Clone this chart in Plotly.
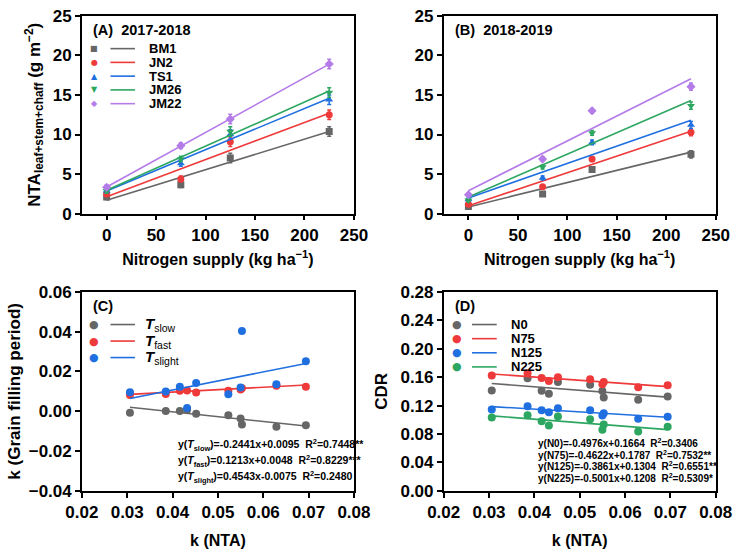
import numpy as np
import plotly.graph_objects as go

# ---------------- data ----------------
n_supply = [0, 75, 125, 225]
cultivars = ["BM1", "JN2", "TS1", "JM26", "JM22"]

# Panel A (2017-2018)
a_BM1 = [2.1, 3.65, 7.05, 10.4]
a_JN2 = [2.5, 4.4, 9.1, 12.5]
a_TS1 = [2.9, 6.35, 10.0, 14.4]
a_JM26 = [2.9, 6.9, 10.4, 15.3]
a_JM22 = [3.35, 8.6, 11.95, 18.9]
a_err = [0.3, 0.35, 0.6, 0.6]

# Panel B (2018-2019)
b_BM1 = [0.9, 2.5, 5.6, 7.5]
b_JN2 = [1.2, 3.4, 6.9, 10.3]
b_TS1 = [1.8, 4.5, 9.0, 11.2]
b_JM26 = [1.7, 5.9, 10.2, 13.65]
b_JM22 = [2.4, 6.9, 13.0, 16.05]
b_err = [0.2, 0.25, 0.3, 0.45]

# k(NTA) values shared by panels C and D
k_nta = [0.0306, 0.0385, 0.0416, 0.0432, 0.0452, 0.0523, 0.0550, 0.0553, 0.0629, 0.0694]

# Panel C
c_slow = [-0.0007, 0.0001, 0.0001, 0.0008, -0.0012, -0.0020, -0.0036, -0.0067, -0.0078, -0.0070]
c_fast = [0.0082, 0.0087, 0.0103, 0.0105, 0.0094, 0.0103, 0.0110, 0.0116, 0.0128, 0.0123]
c_slight = [0.0095, 0.0099, 0.0123, 0.0017, 0.0142, 0.0085, 0.0120, 0.0403, 0.0136, 0.0252]
c_names = ["slow", "fast", "slight"]
c_slope = [-0.2441, 0.1213, 0.4543]
c_icpt = [0.0095, 0.0048, -0.0075]
c_r2 = ["0.7448**", "0.8229***", "0.2480"]

# Panel D
d_N0 = [0.1414, 0.1586, 0.1409, 0.1368, 0.1531, 0.1495, 0.1404, 0.1314, 0.1282, 0.1327]
d_N75 = [0.1622, 0.1654, 0.1590, 0.1545, 0.1600, 0.1572, 0.1500, 0.1531, 0.1459, 0.1486]
d_N125 = [0.1146, 0.1192, 0.1133, 0.1105, 0.1164, 0.1133, 0.1060, 0.1092, 0.1015, 0.1042]
d_N225 = [0.1033, 0.1065, 0.0979, 0.0920, 0.1047, 0.1006, 0.0861, 0.0933, 0.0834, 0.0902]
d_names = ["N0", "N75", "N125", "N225"]
d_slope = [-0.4976, -0.4622, -0.3861, -0.5001]
d_icpt = [0.1664, 0.1787, 0.1304, 0.1208]
d_r2 = ["0.3406", "0.7532**", "0.6551**", "0.5309*"]

# ---------------- style ----------------
GRAY, RED, BLUE, GREEN, PURPLE = "#666666", "#EE3A3A", "#1F6FE0", "#2CA660", "#B47CE8"
ab_colors = [GRAY, RED, BLUE, GREEN, PURPLE]
ab_symbols = ["square", "circle", "triangle-up", "triangle-down", "diamond"]
ab_glyph = ["■", "●", "▲", "▼", "◆"]
FONT = "Liberation Sans, Arial, sans-serif"

fig = go.Figure()

def add_ab(series, err, xa, ya):
    for name, vals, col, sym in zip(cultivars, series, ab_colors, ab_symbols):
        fig.add_trace(go.Scatter(
            x=n_supply, y=vals, mode="markers", xaxis=xa, yaxis=ya,
            marker=dict(symbol=sym, size=7, color=col),
            error_y=dict(type="data", array=err, color=col, thickness=1.5, width=2),
            showlegend=False))
        p = np.polyfit(n_supply, vals, 1)
        xs = np.array([n_supply[0], n_supply[-1]])
        fig.add_trace(go.Scatter(
            x=xs, y=np.polyval(p, xs), mode="lines", xaxis=xa, yaxis=ya,
            line=dict(color=col, width=1.6), showlegend=False))

add_ab([a_BM1, a_JN2, a_TS1, a_JM26, a_JM22], a_err, "x", "y")
add_ab([b_BM1, b_JN2, b_TS1, b_JM26, b_JM22], b_err, "x2", "y2")

kx = np.array([min(k_nta), max(k_nta)])
for vals, col, s, b in zip([c_slow, c_fast, c_slight], [GRAY, RED, BLUE], c_slope, c_icpt):
    fig.add_trace(go.Scatter(x=k_nta, y=vals, mode="markers", xaxis="x3", yaxis="y3",
                             marker=dict(symbol="circle", size=8, color=col), showlegend=False))
    fig.add_trace(go.Scatter(x=kx, y=s * kx + b, mode="lines", xaxis="x3", yaxis="y3",
                             line=dict(color=col, width=1.6), showlegend=False))

for vals, col, s, b in zip([d_N0, d_N75, d_N125, d_N225], [GRAY, RED, BLUE, GREEN], d_slope, d_icpt):
    fig.add_trace(go.Scatter(x=k_nta, y=vals, mode="markers", xaxis="x4", yaxis="y4",
                             marker=dict(symbol="circle", size=8, color=col), showlegend=False))
    fig.add_trace(go.Scatter(x=kx, y=s * kx + b, mode="lines", xaxis="x4", yaxis="y4",
                             line=dict(color=col, width=1.6), showlegend=False))

# ---------------- axes ----------------
def ax(domain, rng, dtick, anchor, title, fmt=None, tick0=None, tsize=16, standoff=None):
    t = dict(text=title, font=dict(family=FONT, size=tsize, color="black", weight="bold"))
    if standoff is not None:
        t["standoff"] = standoff
    d = dict(domain=domain, range=rng, dtick=dtick, anchor=anchor,
             showline=True, linecolor="black", linewidth=1.5, mirror=True,
             ticks="outside", ticklen=5, tickwidth=1.5, tickcolor="black",
             showgrid=False, zeroline=False,
             tickfont=dict(family=FONT, size=17, color="black", weight="bold"),
             title=t)
    if fmt:
        d["tickformat"] = fmt
    if tick0 is not None:
        d["tick0"] = tick0
    return d

XL, XR = [0.0909, 0.4719], [0.5976, 0.9786]
YT, YB = [0.6159, 0.9873], [0.0960, 0.4692]
nx_title = "<b>Nitrogen supply (kg ha<sup>−1</sup>)</b>"
fig.update_layout(
    xaxis=ax(XL, [-25, 250], 50, "y", nx_title, tick0=0, standoff=10),
    yaxis=ax(YT, [0, 25], 5, "x", "<b>NTA<sub>leaf+stem+chaff</sub> (g m<sup>−2</sup>)</b>", tsize=17, standoff=8),
    xaxis2=ax(XR, [-25, 250], 50, "y2", nx_title, tick0=0, standoff=10),
    yaxis2=ax(YT, [0, 25], 5, "x2", ""),
    xaxis3=ax(XL, [0.02, 0.08], 0.01, "y3", "<b>k (NTA)</b>", fmt=".2f", standoff=14),
    yaxis3=ax(YB, [-0.04, 0.06], 0.02, "x3", "<b>k (Grain filling period)</b>", fmt=".2f", tsize=17, standoff=4),
    xaxis4=ax(XR, [0.02, 0.08], 0.01, "y4", "<b>k (NTA)</b>", fmt=".2f", standoff=14),
    yaxis4=ax(YB, [0.0, 0.28], 0.04, "x4", "<b>CDR</b>", fmt=".2f", tsize=17, standoff=8),
)

annotations = []
shapes = []

def txt(xr, yr, x, y, text, size=13, color="black", xanchor="left", family=FONT):
    annotations.append(dict(xref=xr, yref=yr, x=x, y=y, text=text, showarrow=False,
                            xanchor=xanchor, yanchor="middle",
                            font=dict(family=family, size=size, color=color)))

def lline(xr, yr, x0, x1, y, col):
    shapes.append(dict(type="line", xref=xr, yref=yr, x0=x0, x1=x1, y0=y, y1=y,
                       line=dict(color=col, width=1.6)))

# Panel A legend/title
txt("x domain", "y domain", 0.035, 0.928, "<b>(A)  2017-2018</b>", 14.5)
for i, (name, col, g) in enumerate(zip(cultivars, ab_colors, ab_glyph)):
    yy = 0.834 - i * 0.0695
    txt("x domain", "y domain", 0.046, yy, g, 8, col, "center", "DejaVu Sans")
    lline("x domain", "y domain", 0.105, 0.195, yy, col)
    txt("x domain", "y domain", 0.239, yy, "<b>%s</b>" % name, 13)

# Panel B title
txt("x2 domain", "y2 domain", 0.035, 0.928, "<b>(B)  2018-2019</b>", 14.5)

# Panel C legend
txt("x3 domain", "y3 domain", 0.035, 0.927, "<b>(C)</b>", 14.5)
for i, (nm, col) in enumerate(zip(c_names, [GRAY, RED, BLUE])):
    yy = 0.836 - i * 0.083
    txt("x3 domain", "y3 domain", 0.046, yy, "●", 11, col, "center", "DejaVu Sans")
    lline("x3 domain", "y3 domain", 0.105, 0.195, yy, col)
    txt("x3 domain", "y3 domain", 0.225, yy,
        "<b><i>T</i></b><sub>%s</sub>" % nm, 15)
for i, (nm, s, b, r) in enumerate(zip(c_names, c_slope, c_icpt, c_r2)):
    eq = "y(<i>T</i><sub>%s</sub>)=%.4fx%+.4f  R<sup>2</sup>=%s" % (nm, s, b, r)
    txt("x3 domain", "y3 domain", 0.345, 0.230 - i * 0.081, "<b>%s</b>" % eq, 10.5)

# Panel D legend
txt("x4 domain", "y4 domain", 0.035, 0.927, "<b>(D)</b>", 14.5)
for i, (nm, col) in enumerate(zip(d_names, [GRAY, RED, BLUE, GREEN])):
    yy = 0.836 - i * 0.071
    txt("x4 domain", "y4 domain", 0.048, yy, "●", 11, col, "center", "DejaVu Sans")
    lline("x4 domain", "y4 domain", 0.104, 0.195, yy, col)
    txt("x4 domain", "y4 domain", 0.239, yy, "<b>%s</b>" % nm, 13)
for i, (nm, s, b, r) in enumerate(zip(d_names, d_slope, d_icpt, d_r2)):
    eq = "y(%s)=%.4fx%+.4f  R<sup>2</sup>=%s" % (nm, s, b, r)
    txt("x4 domain", "y4 domain", 0.338, 0.241 - i * 0.0585, "<b>%s</b>" % eq, 10)

fig.update_layout(
    width=748, height=552, margin=dict(l=0, r=0, t=0, b=0),
    paper_bgcolor="white", plot_bgcolor="white",
    annotations=annotations, shapes=shapes, showlegend=False,
    font=dict(family=FONT, color="black"),
)

fig.write_html("out.html")
